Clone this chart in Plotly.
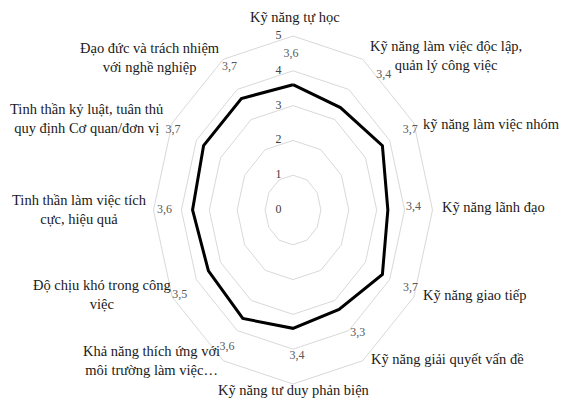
import numpy as np
import plotly.graph_objects as go

# ---------------- data ----------------
categories = [
    "Kỹ năng tự học",
    "Kỹ năng làm việc độc lập,<br>quản lý công việc",
    "kỹ năng làm việc nhóm",
    "Kỹ năng lãnh đạo",
    "Kỹ năng giao tiếp",
    "Kỹ năng giải quyết vấn đề",
    "Kỹ năng tư duy phản biện",
    "Khả năng thích ứng với<br>môi trường làm việc…",
    "Độ chịu khó trong công<br>việc",
    "Tinh thần làm việc tích<br>cực, hiệu quả",
    "Tinh thần kỷ luật, tuân thủ<br>quy định Cơ quan/đơn vị",
    "Đạo đức và trách nhiệm<br>với nghề nghiệp",
]
values = [3.6, 3.4, 3.7, 3.4, 3.7, 3.3, 3.4, 3.6, 3.5, 3.6, 3.7, 3.7]
radial_ticks = [0, 1, 2, 3, 4, 5]

# ---------------- layout / geometry (not data) ----------------
W, H = 562, 404
CX, CY = 293, 210          # centre of the radar in pixels
SX, SY = 27.9, 34.8        # pixels per unit (the picture is stretched vertically)

# positions of the value labels (radius, clockwise angle from top, degrees)
vlab_r = [4.47, 5.07, 4.8, 4.32, 4.77, 4.24, 4.21, 4.59, 4.74, 4.61, 4.87, 4.69]
vlab_a = [-0.9, 39.9, 61.2, 89, 118, 146.8, 178, 211, 239, 270, 298, 331]

# pixel centres of the category labels
cat_px = [(295, 17), (446, 55), (491, 124), (494, 207), (475, 295), (447, 359),
          (294, 390), (151, 360), (102, 294), (79, 209), (86, 118), (150, 57)]

FONT = "Liberation Serif"
GRID = "#d9d9d9"

n = len(categories)
ang = np.deg2rad(np.arange(n) * 360.0 / n)


def to_xy(r, a):
    r = np.asarray(r, dtype=float)
    return r * np.sin(a), r * np.cos(a)


fig = go.Figure()

# grid rings (12-gons)
for t in radial_ticks[1:]:
    rx, ry = to_xy([t] * (n + 1), np.append(ang, ang[0]))
    fig.add_trace(go.Scatter(x=rx, y=ry, mode="lines",
                             line=dict(color=GRID, width=1),
                             hoverinfo="skip", showlegend=False))

# data polygon
vx, vy = to_xy(values + values[:1], np.append(ang, ang[0]))
fig.add_trace(go.Scatter(x=vx, y=vy, mode="lines",
                         line=dict(color="black", width=3),
                         name="Điểm trung bình", showlegend=False))

# value labels
lx, ly = to_xy(vlab_r, np.deg2rad(vlab_a))
fig.add_trace(go.Scatter(x=lx, y=ly, mode="text",
                         text=[f"{v:.1f}".replace(".", ",") for v in values],
                         textfont=dict(family=FONT, size=12, color="#595959"),
                         hoverinfo="skip", showlegend=False))

# radial tick labels
fig.add_trace(go.Scatter(x=[-0.52] * len(radial_ticks), y=radial_ticks, mode="text",
                         text=[str(t) for t in radial_ticks],
                         textfont=dict(family=FONT, size=12, color="#404040"),
                         hoverinfo="skip", showlegend=False))

# category labels
for lab, (px, py) in zip(categories, cat_px):
    fig.add_annotation(x=px / W, y=1 - py / H, xref="paper", yref="paper",
                       text=lab, showarrow=False, xanchor="center", yanchor="middle",
                       align="center",
                       font=dict(family=FONT, size=14.5, color="#1a1a1a"))

fig.update_layout(
    width=W, height=H,
    margin=dict(l=0, r=0, t=0, b=0),
    paper_bgcolor="white", plot_bgcolor="white",
    font=dict(family=FONT),
    xaxis=dict(range=[-CX / SX, (W - CX) / SX], visible=False, fixedrange=True),
    yaxis=dict(range=[(CY - H) / SY, CY / SY], visible=False, fixedrange=True),
)

fig.write_html("out.html", config={"displayModeBar": False},
               post_script="document.body.style.margin='0px';document.body.style.overflow='hidden';")
